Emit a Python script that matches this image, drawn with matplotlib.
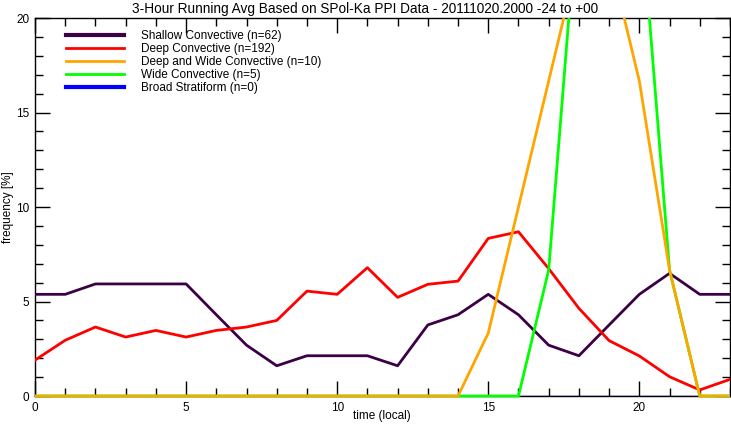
import numpy as np
import matplotlib
matplotlib.use("Agg")
import matplotlib.pyplot as plt
from matplotlib.ticker import MultipleLocator
from matplotlib.patches import Rectangle

hours = list(range(24))

shallow = [5.38, 5.38, 5.93, 5.93, 5.93, 5.93, 4.30, 2.69, 1.60, 2.13, 2.13, 2.13,
           1.60, 3.76, 4.30, 5.38, 4.30, 2.69, 2.13, 3.76, 5.38, 6.49, 5.38, 5.38]
deep = [1.90, 2.95, 3.65, 3.12, 3.47, 3.12, 3.47, 3.65, 4.00, 5.55, 5.38, 6.79,
        5.22, 5.91, 6.08, 8.34, 8.69, 6.74, 4.64, 2.93, 2.12, 1.02, 0.32, 0.88]
deep_wide = [0, 0, 0, 0, 0, 0, 0, 0, 0, 0, 0, 0,
             0, 0, 0, 3.33, 10.0, 16.67, 23.33, 23.33, 16.67, 6.67, 0, 0]
wide = [0, 0, 0, 0, 0, 0, 0, 0, 0, 0, 0, 0,
        0, 0, 0, 0, 0, 6.67, 26.67, 33.33, 26.67, 6.67, 0, 0]
stratiform = [0] * 24

labels = ["Shallow Convective (n=62)", "Deep Convective (n=192)",
          "Deep and Wide Convective (n=10)", "Wide Convective (n=5)",
          "Broad Stratiform (n=0)"]

plt.rcParams["font.family"] = ["Liberation Sans", "DejaVu Sans"]

fig = plt.figure(figsize=(7.31, 4.26), dpi=100)
ax = fig.add_axes([0.0479, 0.0704, 0.9507, 0.8873])

# stratiform is all zero; it ends up hidden under the bottom axis
h_strat, = ax.plot(hours, stratiform, color="#0000ff", lw=1, zorder=1)
h_shal, = ax.plot(hours, shallow, color="#3c0046", lw=2, zorder=4)
h_deep, = ax.plot(hours, deep, color="#ff0000", lw=2, zorder=5)
h_wide, = ax.plot(hours, wide, color="#00ff00", lw=2, zorder=6)
h_dw, = ax.plot(hours, deep_wide, color="#ffa500", lw=2, zorder=7)

# clip at the top of the axes only, so the zero lines sit over the bottom axis
for h in [h_shal, h_deep, h_wide, h_dw]:
    clip = Rectangle((0, -0.05), 1, 1.05, transform=ax.transAxes)
    h.set_clip_path(clip)

ax.set_xlim(0, 23)
ax.set_ylim(0, 20)
ax.xaxis.set_major_locator(MultipleLocator(5))
ax.xaxis.set_minor_locator(MultipleLocator(1))
ax.yaxis.set_major_locator(MultipleLocator(5))
ax.yaxis.set_minor_locator(MultipleLocator(1))
ax.tick_params(which="both", direction="in", top=True, right=True,
               labelsize=8.5, width=1, colors="black")
ax.tick_params(which="major", length=11, pad=4)
ax.tick_params(which="minor", length=6)
for sp in ax.spines.values():
    sp.set_linewidth(1)

fig.text(382 / 731, 1 - 416 / 426, "time (local)", fontsize=8.5, ha="center", va="center")
fig.text(8 / 731, 1 - 207 / 426, "frequency [%]", fontsize=8.5, ha="center", va="center",
         rotation=90)
fig.suptitle("3-Hour Running Avg Based on SPol-Ka PPI Data - 20111020.2000 -24 to +00",
             fontsize=9.8, y=0.995)

leg_handles = [h_shal, h_deep, h_dw, h_wide, h_strat]
leg = ax.legend(leg_handles, labels, loc="upper left", bbox_to_anchor=(0.033, 0.99),
                frameon=False, fontsize=8.5, handlelength=4.9, handletextpad=1.45,
                labelspacing=0.08, borderaxespad=0.3)
for line, w in zip(leg.get_lines(), [3, 2, 2, 2, 3]):
    line.set_linewidth(w)

fig.savefig("out.png", dpi=100)
